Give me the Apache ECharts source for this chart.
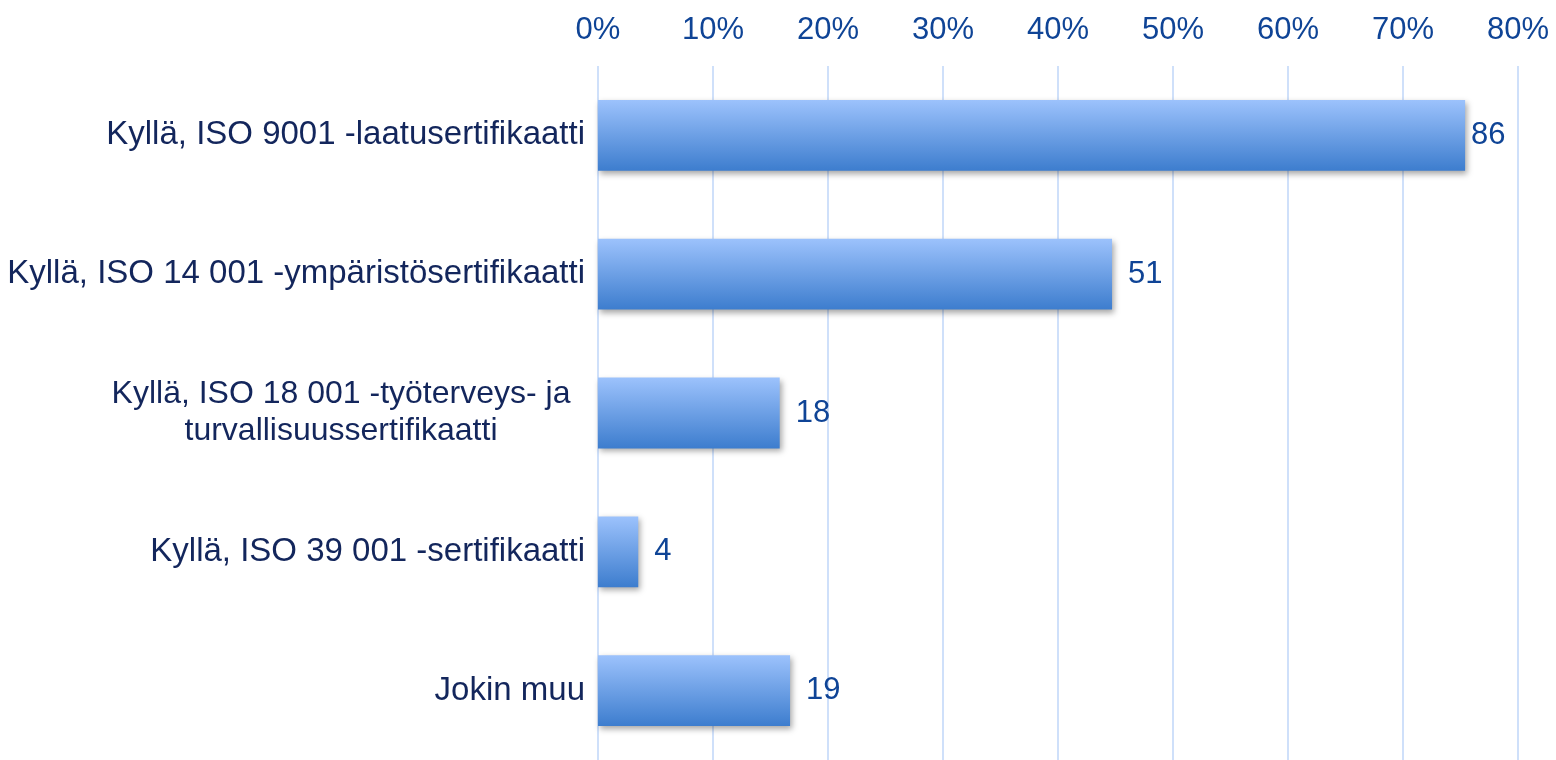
<!DOCTYPE html>
<html>
<head>
<meta charset="utf-8">
<script src="https://cdn.jsdelivr.net/npm/echarts@6/dist/echarts.min.js"></script>
<style>
html,body{margin:0;padding:0;background:#fff;}
#main{width:1556px;height:760px;}
</style>
</head>
<body>
<div id="main"></div>
<script>
// kategoriat (ylhäältä alas)
var categories = [
	'Kyllä, ISO 9001 -laatusertifikaatti',
	'Kyllä, ISO 14 001 -ympäristösertifikaatti',
	'Kyllä, ISO 18 001 -työterveys- ja\nturvallisuussertifikaatti',
	'Kyllä, ISO 39 001 -sertifikaatti',
	'Jokin muu'
];
// palkin pituus, % vastaajista
var percentValues = [75.4, 44.7, 15.8, 3.5, 16.7];
// lukumäärät palkin päässä
var countLabels = [86, 51, 18, 4, 19];
var xTicks = [0, 10, 20, 30, 40, 50, 60, 70, 80];

var chart = echarts.init(document.getElementById('main'));

var seriesData = [];
for (var i = 0; i < percentValues.length; i++) {
	var item = { value: percentValues[i], count: countLabels[i] };
	if (i == 0) {
		item.label = { distance: 6 };
	}
	seriesData.push(item);
}

var option = {
	animation: false,
	grid: {
		left: 598,
		right: 38,
		top: 66,
		bottom: -4,
		containLabel: false
	},
	xAxis: {
		type: 'value',
		position: 'top',
		min: xTicks[0],
		max: xTicks[xTicks.length - 1],
		interval: 10,
		axisLine: { show: false },
		axisTick: { show: false },
		splitLine: { show: true, lineStyle: { color: '#cfe0fa', width: 2 } },
		axisLabel: {
			margin: 20,
			color: '#0f4496',
			fontFamily: 'Liberation Sans, Arial, sans-serif',
			fontSize: 31,
			formatter: '{value}%'
		}
	},
	yAxis: {
		type: 'category',
		inverse: true,
		data: categories,
		axisLine: { show: false },
		axisTick: { show: false },
		axisLabel: {
			margin: 13,
			color: '#13265c',
			fontFamily: 'Liberation Sans, Arial, sans-serif',
			fontSize: 33,
			formatter: function (val) {
				// kaksirivinen teksti keskitetään
				if (val.indexOf('\n') >= 0) {
					var parts = val.split('\n');
					return '{c|' + parts[0] + '}\n{c|' + parts[1] + '}';
				}
				return val;
			},
			rich: {
				c: {
					width: 488,
					align: 'center',
					color: '#13265c',
					fontFamily: 'Liberation Sans, Arial, sans-serif',
					fontSize: 32,
					lineHeight: 37
				}
			}
		}
	},
	series: [
		{
			type: 'bar',
			data: seriesData,
			barWidth: '51%',
			itemStyle: {
				color: new echarts.graphic.LinearGradient(0, 0, 0, 1, [
					{ offset: 0, color: '#9cc2fc' },
					{ offset: 1, color: '#3d7dce' }
				]),
				shadowColor: 'rgba(0,0,0,0.35)',
				shadowBlur: 6,
				shadowOffsetX: 2,
				shadowOffsetY: 3
			},
			label: {
				show: true,
				position: 'right',
				distance: 16,
				color: '#0f4496',
				fontFamily: 'Liberation Sans, Arial, sans-serif',
				fontSize: 31,
				formatter: function (p) {
					return p.data.count;
				}
			}
		}
	]
};

chart.setOption(option);
window.onresize = chart.resize;
</script>
</body>
</html>
